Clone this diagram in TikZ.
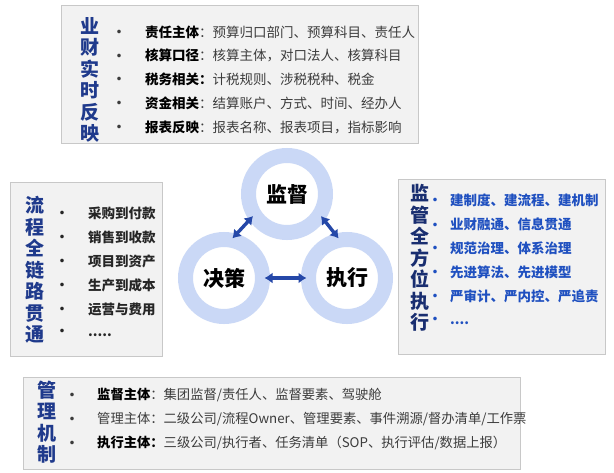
\documentclass[tikz,border=0pt]{standalone}
\usepackage{fontspec}
\setmainfont{Noto Sans CJK SC}
\usetikzlibrary{arrows.meta}

\definecolor{ringblue}{HTML}{CAD8F6}
\definecolor{navy}{HTML}{1F3A8C}
\definecolor{arrowblue}{HTML}{2548A8}
\definecolor{itemblue}{HTML}{1F50C0}
\definecolor{boxgray}{HTML}{F2F2F2}
\definecolor{edgegray}{HTML}{C8C8C8}
\definecolor{txtgray}{HTML}{3C3C3C}

% bullet with a fixed column width
\newcommand\bul[1][28pt]{\makebox[#1][l]{\raisebox{3.4pt}{\fontsize{4}{4}\selectfont ●}}}

\begin{document}
\begin{tikzpicture}[x=1pt, y=-1pt,
    panel/.style={fill=boxgray, draw=edgegray, line width=0.8pt},
    title/.style={font=\bfseries\fontsize{19}{21.5}\selectfont, text=navy, align=center, inner sep=0},
    row/.style={anchor=west, inner sep=0, font=\fontsize{13.5}{16}\selectfont, text=txtgray},
    ring/.style={circle, draw=ringblue, line width=15pt, fill=white, minimum size=77pt, inner sep=0,
        outer sep=2pt, font=\bfseries\fontsize{21}{21}\selectfont},
    link/.style={{Latex[length=8pt,width=11pt]}-{Latex[length=8pt,width=11pt]}, line width=3.4pt, draw=arrowblue}]
    \useasboundingbox (0,0) rectangle (614,472);
    \fill[white] (0,0) rectangle (614,472);

    % Panels
    \draw[panel] (61,5) rectangle (418,143);
    \draw[panel] (10,182) rectangle (162,356);
    \draw[panel] (398,179) rectangle (605,354);
    \draw[panel] (23,377) rectangle (520,469);

    % Top panel
    \node[title] (tt) at (90,80) {业\\财\\实\\时\\反\\映};
    \node[row] (t1) at (117,32) {\bul\textbf{\color{black}责任主体}：预算归口部门、预算科目、责任人};
    \node[row] (t2) at (117,55.5) {\bul\textbf{\color{black}核算口径}：核算主体，对口法人、核算科目};
    \node[row] (t3) at (117,79) {\bul\textbf{\color{black}税务相关：}计税规则、涉税税种、税金};
    \node[row] (t4) at (117,103) {\bul\textbf{\color{black}资金相关}：结算账户、方式、时间、经办人};
    \node[row] (t5) at (117,127) {\bul\textbf{\color{black}报表反映}：报表名称、报表项目，指标影响};

    % Left panel
    \node[title] (lt) at (35,270) {流\\程\\全\\链\\路\\贯\\通};
    \node[row, font=\bfseries\fontsize{13.5}{16}\selectfont, text=black!85] (l1) at (60,213) {\bul{}采购到付款};
    \node[row, font=\bfseries\fontsize{13.5}{16}\selectfont, text=black!85] (l2) at (60,237) {\bul{}销售到收款};
    \node[row, font=\bfseries\fontsize{13.5}{16}\selectfont, text=black!85] (l3) at (60,261) {\bul{}项目到资产};
    \node[row, font=\bfseries\fontsize{13.5}{16}\selectfont, text=black!85] (l4) at (60,285) {\bul{}生产到成本};
    \node[row, font=\bfseries\fontsize{13.5}{16}\selectfont, text=black!85] (l5) at (60,309) {\bul{}运营与费用};
    \node[row, font=\bfseries\fontsize{13.5}{16}\selectfont, text=black!85] (l6) at (60,333) {\bul{}.....};

    % Right panel
    \node[title, text=navy!80!black] (rt) at (420,258) {监\\管\\全\\方\\位\\执\\行};
    \node[row, font=\bfseries\fontsize{13.5}{16}\selectfont, text=itemblue] (r1) at (433,200) {\bul[17pt]建制度、建流程、建机制};
    \node[row, font=\bfseries\fontsize{13.5}{16}\selectfont, text=itemblue] (r2) at (433,224.5) {\bul[17pt]业财融通、信息贯通};
    \node[row, font=\bfseries\fontsize{13.5}{16}\selectfont, text=itemblue] (r3) at (433,248) {\bul[17pt]规范治理、体系治理};
    \node[row, font=\bfseries\fontsize{13.5}{16}\selectfont, text=itemblue] (r4) at (433,272) {\bul[17pt]先进算法、先进模型};
    \node[row, font=\bfseries\fontsize{13.5}{16}\selectfont, text=itemblue] (r5) at (433,296) {\bul[17pt]严审计、严内控、严追责};
    \node[row, font=\bfseries\fontsize{13.5}{16}\selectfont, text=itemblue] (r6) at (433,321) {\bul[17pt]....};

    % Bottom panel
    \node[title] (bt) at (47,422) {管\\理\\机\\制};
    \node[row, font=\fontsize{13.3}{16}\selectfont] (m1) at (70,395) {\bul[27pt]\textbf{\color{black}监督主体}：集团监督/责任人、监督要素、驾驶舱};
    \node[row, font=\fontsize{13.3}{16}\selectfont] (m2) at (70,419) {\bul[27pt]管理主体：二级公司/流程Owner、管理要素、事件溯源/督办清单/工作票};
    \node[row, font=\fontsize{13.3}{16}\selectfont] (m3) at (70,443) {\bul[27pt]\textbf{\color{black}执行主体：}三级公司/执行者、任务清单（SOP、执行评估/数据上报）};

    % Rings and links
    \node[ring] (sup) at (287,194) {监督};
    \node[ring] (dec) at (224,278) {决策};
    \node[ring] (exe) at (347,278) {执行};
    \draw[link] (sup.213) -- (dec.78);
    \draw[link] (sup.327) -- (exe.102);
    \draw[link] (dec) -- (exe);
\end{tikzpicture}
\end{document}
